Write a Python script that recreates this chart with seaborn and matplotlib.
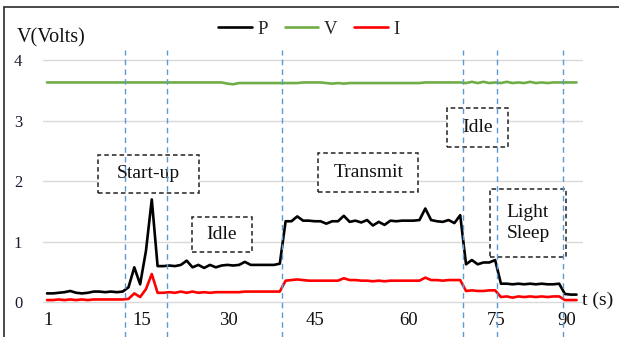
import matplotlib
matplotlib.use("Agg")
import matplotlib.pyplot as plt
from matplotlib.patches import Rectangle
from matplotlib.lines import Line2D
import numpy as np
import pandas as pd
import seaborn as sns

# ---------------- data ----------------
t = list(range(1, 93))
P = [0.15, 0.15, 0.16, 0.17, 0.19, 0.16, 0.15, 0.16, 0.18, 0.18,
     0.17, 0.18, 0.17, 0.18, 0.25, 0.58, 0.30, 0.85, 1.70, 0.60,
     0.60, 0.61, 0.60, 0.62, 0.69, 0.58, 0.62, 0.57, 0.62, 0.58,
     0.61, 0.62, 0.61, 0.62, 0.67, 0.62, 0.62, 0.62, 0.62, 0.62,
     0.64, 1.34, 1.34, 1.42, 1.35, 1.35, 1.34, 1.34, 1.30, 1.34,
     1.34, 1.43, 1.33, 1.35, 1.32, 1.36, 1.27, 1.33, 1.28, 1.35,
     1.34, 1.35, 1.35, 1.35, 1.36, 1.55, 1.36, 1.34, 1.33, 1.36,
     1.31, 1.44, 0.63, 0.70, 0.63, 0.66, 0.66, 0.70, 0.31, 0.31,
     0.30, 0.31, 0.30, 0.31, 0.30, 0.31, 0.30, 0.30, 0.31, 0.14,
     0.13, 0.13]
V = [3.63] * 31 + [3.61, 3.60] + [3.62] * 11 + [3.63] * 4 + \
    [3.62, 3.61, 3.62, 3.61] + [3.62] * 13 + [3.63] * 7 + \
    [3.62, 3.64, 3.62, 3.64, 3.62, 3.63, 3.62, 3.64, 3.62, 3.63,
     3.62, 3.64, 3.62, 3.63, 3.62, 3.63] + [3.63] * 4
I = [0.04, 0.04, 0.05, 0.04, 0.05, 0.04, 0.05, 0.04, 0.05, 0.05,
     0.05, 0.05, 0.05, 0.05, 0.06, 0.15, 0.09, 0.22, 0.47, 0.16,
     0.16, 0.17, 0.16, 0.18, 0.16, 0.18, 0.16, 0.17, 0.16, 0.17,
     0.17, 0.17, 0.17, 0.17, 0.18, 0.18, 0.18, 0.18, 0.18, 0.18,
     0.18, 0.36, 0.37, 0.38, 0.37, 0.36, 0.36, 0.36, 0.36, 0.36,
     0.36, 0.40, 0.37, 0.37, 0.36, 0.36, 0.35, 0.36, 0.35, 0.36,
     0.36, 0.36, 0.36, 0.36, 0.36, 0.41, 0.37, 0.37, 0.36, 0.37,
     0.37, 0.37, 0.19, 0.20, 0.19, 0.19, 0.20, 0.20, 0.09, 0.10,
     0.08, 0.10, 0.09, 0.10, 0.09, 0.10, 0.09, 0.10, 0.10, 0.04,
     0.04, 0.04]

series_order = ["P", "V", "I"]
series_colors = {"P": "#000000", "V": "#70ad47", "I": "#ff0000"}

x_tick_labels = ["1", "15", "30", "45", "60", "75", "90"]
x_tick_pos = [1.2, 17.2, 32.1, 47.0, 63.2, 78.2, 90.3]
y_ticks = [0, 1, 2, 3, 4]

phase_bounds = [14.4, 21.6, 41.4, 72.5, 78.3, 89.7]
phase_labels = ["Start-up", "Idle", "Transmit", "Idle", "Light\nSleep"]
# box: (x0, y0, width, height) in data units
phase_boxes = [(9.8, 1.81, 17.3, 0.63),
               (25.9, 0.83, 10.3, 0.58),
               (47.6, 1.82, 17.2, 0.65),
               (69.7, 2.57, 10.5, 0.64),
               (77.1, 0.75, 13.1, 1.12)]

# ---------------- style ----------------
sns.set_style("white")
plt.rcParams["font.family"] = ["Liberation Serif", "DejaVu Serif"]

df = pd.DataFrame({
    "t": t * 3,
    "value": P + V + I,
    "series": ["P"] * len(t) + ["V"] * len(t) + ["I"] * len(t),
})

W, H = 619, 337
fig = plt.figure(figsize=(W / 100, H / 100), dpi=100)
fig.patch.set_facecolor("white")

ylo, yhi = -0.02, 4.02
ax = fig.add_axes([43 / W, 1 - 303.7 / H, (583 - 43) / W, (303.7 - 58.8) / H])

sns.lineplot(data=df, x="t", y="value", hue="series", hue_order=series_order,
             palette=series_colors, linewidth=1.9, ax=ax, legend=True, zorder=2)

ax.set_xlim(0.31, 93.1)
ax.set_ylim(ylo, yhi)
ax.set_xticks(x_tick_pos)
ax.set_xticklabels(x_tick_labels)
ax.set_yticks(y_ticks)
ax.set_yticklabels([str(v) for v in y_ticks])
ax.tick_params(axis="x", length=0, pad=6, labelsize=13.5, labelcolor="#111111")
ax.tick_params(axis="y", length=0, pad=15, labelsize=12, labelcolor="#1a1a2e")
ax.set_xlabel("")
ax.set_ylabel("")
for s in ax.spines.values():
    s.set_visible(False)
ax.yaxis.grid(True, color="#d9d9d9", linewidth=1.0)
ax.xaxis.grid(False)
ax.set_axisbelow(True)

# phase boxes
for (x0, y0, w, h), lab in zip(phase_boxes, phase_labels):
    ax.add_patch(Rectangle((x0, y0), w, h, facecolor="white", edgecolor="#222222",
                           linestyle=(0, (3, 2)), linewidth=1.1, zorder=1.5))
    ax.text(x0 + w / 2, y0 + h / 2, lab, ha="center", va="center",
            fontsize=14, color="#111111", zorder=2.5, linespacing=1.3)

# phase boundaries
span = yhi - ylo
for b in phase_bounds:
    ax.axvline(b, ymin=(-0.57 - ylo) / span, ymax=(4.17 - ylo) / span,
               color="#5b9bd5", linestyle=(0, (4, 3)), linewidth=1.0,
               clip_on=False, zorder=3)

# legend
handles, labels = ax.get_legend_handles_labels()
if ax.get_legend() is not None:
    ax.get_legend().remove()
fig.legend(handles, labels, loc="center", bbox_to_anchor=(309 / W, 1 - 29 / H),
           ncol=3, frameon=False, fontsize=13.5, handlelength=1.8,
           handletextpad=0.3, columnspacing=0.9)

fig.text(17 / W, 1 - 38 / H, "V(Volts)", ha="left", va="center", fontsize=14.5,
         color="#111111")
fig.text(582 / W, 1 - 300 / H, "t (s)", ha="left", va="center", fontsize=14,
         color="#111111")

# outer frame (left and top edges)
fig.add_artist(Line2D([4 / W, 4 / W], [0, 1 - 7 / H], transform=fig.transFigure,
                      color="#3a3a3a", linewidth=1.3))
fig.add_artist(Line2D([4 / W, 1], [1 - 7 / H, 1 - 7 / H], transform=fig.transFigure,
                      color="#3a3a3a", linewidth=1.3))

fig.savefig("out.png", dpi=100, facecolor="white")
